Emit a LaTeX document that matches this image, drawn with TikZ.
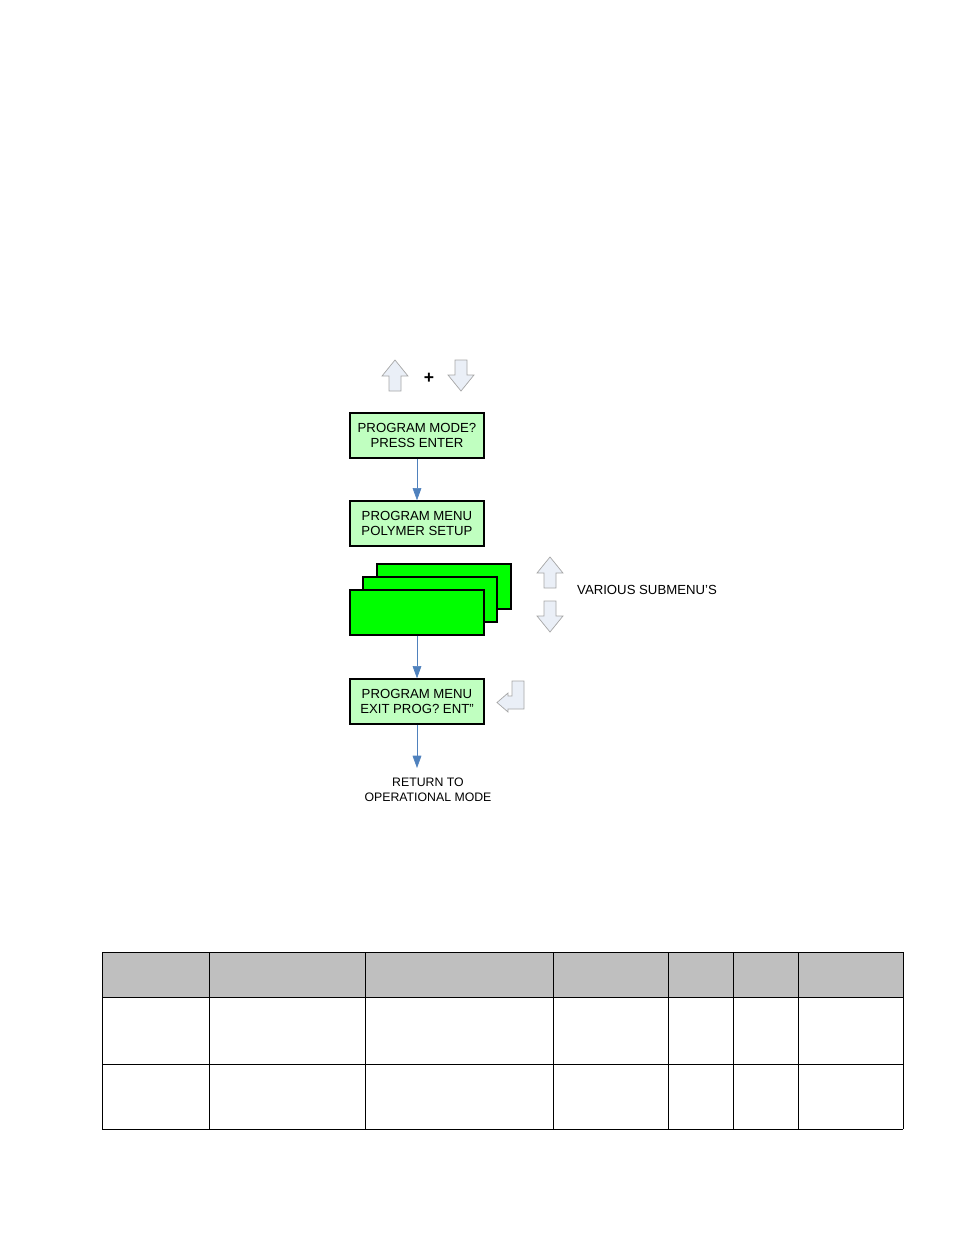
\documentclass[tikz,border=0pt]{standalone}
\usepackage{fontspec}
\setmainfont{Liberation Sans}
\usetikzlibrary{arrows.meta}
\definecolor{lcdgreen}{RGB}{192,255,192}
\definecolor{brightgreen}{RGB}{0,255,0}
\definecolor{keyfill}{RGB}{234,239,247}
\definecolor{linkblue}{RGB}{79,129,189}
\tikzset{
  lcd/.style={draw,thick,fill=lcdgreen,minimum width=2.68cm,minimum height=0.9cm,align=center,inner sep=0pt,font=\fontsize{7.5}{8.6}\selectfont},
  blank/.style={draw,thick,fill=brightgreen,minimum width=2.68cm,minimum height=0.9cm},
  link/.style={draw=linkblue,-{Triangle[width=5pt,length=7pt]}},
  key/.style={draw=gray!70,fill=keyfill},
  cell/.style={draw,thin}
}
\begin{document}
\begin{tikzpicture}[x=0.02cm,y=-0.02cm]
		\useasboundingbox (0,0) rectangle (954,1235);
		%touches haut et bas
		\path[key] (382,376) -- (395,360) -- (408,376) -- (401,376) -- (401,391) -- (389,391) -- (389,376) -- cycle;
		\node (plus) at (429,378) {\textbf{+}};
		\path[key] (448,375) -- (461,391) -- (474,375) -- (467,375) -- (467,360) -- (455,360) -- (455,375) -- cycle;
		%ecrans
		\node (mode) at (417,435.5) [lcd] {PROGRAM MODE?\\PRESS ENTER};
		\node (menu) at (417,523.5) [lcd] {PROGRAM MENU\\POLYMER SETUP};
		\node (sub3) at (444,586.5) [blank] {};
		\node (sub2) at (430,599.5) [blank] {};
		\node (sub1) at (417,612.5) [blank] {};
		\node (exit) at (417,701.5) [lcd] {PROGRAM MENU\\EXIT PROG? ENT''};
		\node (ret) at (428,790) [align=center,font=\fontsize{7}{8.5}\selectfont] {RETURN TO\\OPERATIONAL MODE};
		\coordinate (retin) at (417,768);
		%touches sous-menus
		\path[key] (537,573) -- (550,557) -- (563,573) -- (556,573) -- (556,588) -- (544,588) -- (544,573) -- cycle;
		\path[key] (537,616) -- (550,632) -- (563,616) -- (556,616) -- (556,601) -- (544,601) -- (544,616) -- cycle;
		\node (various) at (571,590) [anchor=west,font=\fontsize{7.5}{9}\selectfont] {VARIOUS SUBMENU'S};
		%touche entree
		\path[key] (512,681) -- (524,681) -- (524,709) -- (508,709) -- (508,712) -- (497,702.5) -- (508,693) -- (508,696) -- (512,696) -- cycle;
		\path
		(mode) edge[link] (menu)
		(sub1) edge[link] (exit)
		(exit) edge[link] (retin)
		;
		%tableau
		\fill[gray!50] (102,952) rectangle (903,997);
		\foreach \x in {102,209,365,553,668,733,798,903}
			\draw[cell] (\x,952) -- (\x,1129);
		\foreach \y in {952,997,1064,1129}
			\draw[cell] (102,\y) -- (903,\y);
	\end{tikzpicture}
\end{document}
